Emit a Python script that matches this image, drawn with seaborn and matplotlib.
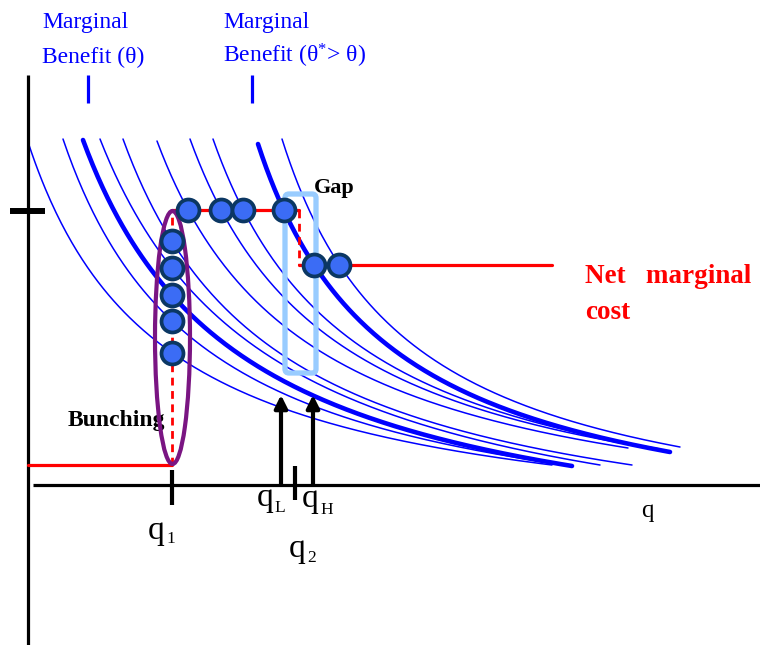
import numpy as np
import pandas as pd
import matplotlib
matplotlib.use("Agg")
import matplotlib.pyplot as plt
from matplotlib.patches import Ellipse, FancyBboxPatch
import seaborn as sns

# Marginal-benefit schedules, one per type (quantity q, money p)
mb_start_q = [0.00, 0.35, 0.55, 0.72, 0.95, 1.29, 1.62, 1.85, 2.30, 2.54]
mb_end_q = [5.24, 5.37, 5.44, 5.72, 6.04, 6.00, 6.22, 6.32, 6.42, 6.52]
mb_top_p = [3.43, 3.46, 3.45, 3.46, 3.46, 3.44, 3.46, 3.46, 3.41, 3.46]
mb_end_p = [0.20, 0.20, 0.19, 0.20, 0.20, 0.37, 0.37, 0.36, 0.33, 0.38]
mb_bend = [3.95, 3.55, 3.08, 2.90, 3.30, 3.10, 3.10, 3.10, 3.10, 3.10]
mb_bold = [False, False, True, False, False, False, False, False, True, False]

# Net marginal cost step schedule
q_bunch = 1.44
q_jump = 2.71
cost_floor = 0.20
cost_upper = 2.75
cost_lower = 2.20
cost_stop = 5.24

# Which types sit where on the cost schedule
bunched_types = [0, 1, 2, 3, 4]
upper_types = [5, 6, 7, 8]
lower_types = [8, 9]

# Quantities marked on the q axis
q_low = 2.53
q_high = 2.85
q_two = 2.67
arrow_tip = 0.90
theta_marks = [0.60, 2.24]


def benefit(i, q):
    a = mb_bend[i]
    t = (np.asarray(q) - mb_start_q[i]) / (mb_end_q[i] - mb_start_q[i])
    g = ((1 + a) / (1 + a * t) - 1) / a
    return mb_end_p[i] + (mb_top_p[i] - mb_end_p[i]) * g


def quantity_at(i, p):
    a = mb_bend[i]
    g = (p - mb_end_p[i]) / (mb_top_p[i] - mb_end_p[i])
    t = ((1 + a) / (1 + a * g) - 1) / a
    return mb_start_q[i] + t * (mb_end_q[i] - mb_start_q[i])


sns.set_theme(style="white")
plt.rcParams["font.family"] = ["Liberation Serif", "DejaVu Serif"]
plt.rcParams["mathtext.fontset"] = "custom"
plt.rcParams["mathtext.rm"] = "Liberation Serif"
plt.rcParams["mathtext.default"] = "regular"

fig = plt.figure(figsize=(7.6, 6.45), dpi=100)
ax = fig.add_axes([0, 0, 1, 1])
ax.set_xlim(-0.28, 7.32)
ax.set_ylim(-1.60, 4.85)
ax.set_axis_off()

BLUE = "#0000ff"
RED = "#ff0000"

rows = []
for i in range(len(mb_start_q)):
    qs = np.linspace(mb_start_q[i], mb_end_q[i], 300)
    for q, p in zip(qs, benefit(i, qs)):
        rows.append({"q": q, "p": p, "curve": i, "bold": mb_bold[i]})
curves = pd.DataFrame(rows)

sns.lineplot(data=curves[~curves["bold"]], x="q", y="p", units="curve",
             estimator=None, sort=False, color=BLUE, lw=1.1, ax=ax, zorder=2)
sns.lineplot(data=curves[curves["bold"]], x="q", y="p", units="curve",
             estimator=None, sort=False, color=BLUE, lw=3.3, ax=ax, zorder=2)

# axes drawn as plain strokes
ax.plot([0, 0], [-1.70, 4.10], color="black", lw=2.3, solid_capstyle="butt", zorder=3)
ax.plot([0.05, 7.40], [0, 0], color="black", lw=2.3, solid_capstyle="butt", zorder=3)
ax.plot([-0.18, 0.17], [cost_upper - 0.01, cost_upper - 0.01], color="black", lw=4.3,
        solid_capstyle="butt", zorder=3)
ax.plot([q_bunch, q_bunch], [0.15, -0.20], color="black", lw=3.0,
        solid_capstyle="butt", zorder=3)
ax.plot([q_two, q_two], [0.19, -0.15], color="black", lw=3.0,
        solid_capstyle="butt", zorder=3)

# net marginal cost
ax.plot([0, q_bunch], [cost_floor, cost_floor], color=RED, lw=2.3, zorder=3)
ax.plot([q_bunch, q_bunch], [cost_floor, cost_upper], color=RED, lw=2.0,
        dashes=(2.8, 2.0), zorder=3)
ax.plot([q_bunch, q_jump], [cost_upper, cost_upper], color=RED, lw=2.3, zorder=3)
ax.plot([q_jump, q_jump], [cost_upper, cost_lower], color=RED, lw=2.0,
        dashes=(2.8, 2.0), zorder=3)
ax.plot([q_jump, cost_stop], [cost_lower, cost_lower], color=RED, lw=2.3, zorder=3)

# bunching ellipse and gap box
ax.add_patch(Ellipse((q_bunch + 0.005, (cost_floor + cost_upper) / 2), width=0.35,
                     height=2.53, fill=False, edgecolor="#7a1582", lw=3.0, zorder=4))
ax.add_patch(FancyBboxPatch((2.57, 1.12), 0.31, 1.79,
                            boxstyle="round,pad=0,rounding_size=0.04",
                            fill=False, edgecolor="#99ccff", lw=3.8, zorder=4))

# types placed on the schedule
dot_q = [q_bunch] * len(bunched_types)
dot_p = [float(benefit(i, q_bunch)) for i in bunched_types]
dot_q += [float(quantity_at(i, cost_upper)) for i in upper_types]
dot_p += [cost_upper] * len(upper_types)
dot_q += [float(quantity_at(i, cost_lower)) for i in lower_types]
dot_p += [cost_lower] * len(lower_types)
sns.scatterplot(x=dot_q, y=dot_p, s=250, color="#3b6cf5", edgecolor="#0b3763",
                linewidth=2.7, ax=ax, zorder=5, legend=False)

# arrows at q_L and q_H
for qa in (q_low, q_high):
    ax.annotate("", xy=(qa, arrow_tip), xytext=(qa, 0.0),
                arrowprops=dict(arrowstyle="-|>", color="black", lw=3.0,
                                mutation_scale=19, shrinkA=0, shrinkB=0),
                zorder=4)

# markers under the benefit labels
for qm in theta_marks:
    ax.plot([qm, qm], [4.10, 3.82], color=BLUE, lw=2.3, solid_capstyle="butt", zorder=3)

ax.text(0.14, 4.57, "Marginal", color=BLUE, fontsize=17, va="baseline")
ax.text(0.14, 4.22, "Benefit (θ)", color=BLUE, fontsize=17, va="baseline")
ax.text(1.95, 4.57, "Marginal", color=BLUE, fontsize=17, va="baseline")
ax.text(1.95, 4.22, r"Benefit (θ$^{*}$> θ)", color=BLUE, fontsize=17, va="baseline")

ax.text(2.86, 2.92, "Gap", color="black", fontsize=16, fontweight="bold", va="baseline")
ax.text(0.40, 0.59, "Bunching", color="black", fontsize=17, fontweight="bold",
        va="baseline")
ax.text(5.57, 2.02, "Net   marginal", color=RED, fontsize=19.5, fontweight="bold",
        va="baseline")
ax.text(5.57, 1.66, "cost", color=RED, fontsize=19.5, fontweight="bold", va="baseline")

# quantity labels with hand-set subscripts
ax.text(2.29, -0.21, "q", fontsize=24, color="black", va="baseline")
ax.text(2.46, -0.27, "L", fontsize=12.5, color="black", va="baseline")
ax.text(2.74, -0.22, "q", fontsize=24, color="black", va="baseline")
ax.text(2.92, -0.29, "H", fontsize=12.5, color="black", va="baseline")
ax.text(1.20, -0.54, "q", fontsize=24, color="black", va="baseline")
ax.text(1.38, -0.58, "1", fontsize=12.5, color="black", va="baseline")
ax.text(2.61, -0.72, "q", fontsize=24, color="black", va="baseline")
ax.text(2.79, -0.77, "2", fontsize=12.5, color="black", va="baseline")
ax.text(6.13, -0.32, "q", fontsize=18, color="black", va="baseline")

fig.savefig("out.png", dpi=100)
